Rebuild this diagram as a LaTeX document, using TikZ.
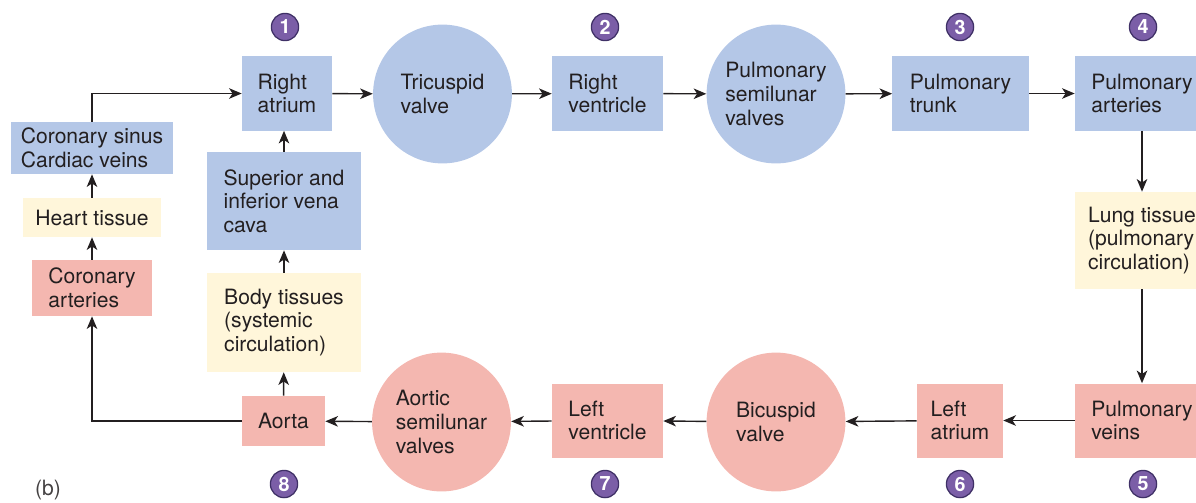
\documentclass[tikz,border=0pt]{standalone}
\usepackage{fontspec}
\setmainfont{TeX Gyre Heros}
\usetikzlibrary{arrows.meta}

\definecolor{venous}{HTML}{B4C7E7}
\definecolor{arterial}{HTML}{F4B7B0}
\definecolor{tissue}{HTML}{FFF6DA}
\definecolor{badgefill}{HTML}{7B5EA7}
\definecolor{badgeline}{HTML}{3F3066}
\definecolor{ink}{HTML}{231F20}

\begin{document}
\begin{tikzpicture}[x=0.025cm, y=-0.025cm,
  every node/.style={font=\fontsize{15}{16.8}\selectfont, text=ink, align=left, inner sep=0pt},
  blk/.style={minimum height=1.85cm},
  vein/.style={fill=venous},
  art/.style={fill=arterial},
  tis/.style={fill=tissue},
  valve/.style={circle, minimum size=3.47cm},
  badge/.style={circle, fill=badgefill, draw=badgeline, line width=0.9pt, minimum size=0.68cm,
                text=white, font=\fontsize{14}{14}\selectfont\bfseries},
  line/.style={-{Stealth[length=9pt, width=7.5pt, inset=2.5pt]}, line width=1pt, draw=ink}]

\useasboundingbox (0,0) rectangle (1196,502);

% pulmonary side, top row
\node (ra)  at (287,93.5)   [vein, blk, minimum width=2.25cm] {Right\\atrium};
\node (tv)  at (442.5,94)   [vein, valve] {Tricuspid\\valve};
\node (rv)  at (607.5,93.5) [vein, blk, minimum width=2.775cm] {Right\\ventricle};
\node (psv) at (776,94)     [vein, valve] {Pulmonary\\semilunar\\valves};
\node (pt)  at (960.5,93.5) [vein, blk, minimum width=3.4cm] {Pulmonary\\trunk};
\node (pa)  at (1142,93.5)  [vein, blk, minimum width=3.35cm] {Pulmonary\\arteries};

% lungs
\node (lung) at (1142,240.5) [tis, minimum width=3.35cm, minimum height=2.425cm]
  {Lung tissue\\(pulmonary\\circulation)};

% systemic side, bottom row
\node (pv)  at (1142,420.5) [art, blk, minimum width=3.35cm] {Pulmonary\\veins};
\node (la)  at (960,420.5)  [art, blk, minimum width=2.15cm] {Left\\atrium};
\node (bv)  at (776,422)    [art, valve] {Bicuspid\\valve};
\node (lv)  at (607.5,420.5) [art, blk, minimum width=2.775cm] {Left\\ventricle};
\node (asv) at (441.5,422)  [art, valve] {Aortic\\semilunar\\valves};
\node (ao)  at (283.5,421)  [art, minimum width=2.075cm, minimum height=1.25cm] {Aorta};

% body and venae cavae
\node (body) at (284,322.5) [tis, minimum width=3.85cm, minimum height=2.475cm]
  {Body tissues\\(systemic\\circulation)};
\node (vc)   at (284,201)   [vein, minimum width=3.85cm, minimum height=2.45cm]
  {Superior and\\inferior vena\\cava};

% coronary loop
\node (ca) at (92,288)   [art, minimum width=3cm, minimum height=1.4cm] {Coronary\\arteries};
\node (ht) at (92,217.5) [tis, minimum width=3.45cm, minimum height=0.975cm] {Heart tissue};
\node (cs) at (92,148)   [vein, minimum width=4.05cm, minimum height=1.3cm] {Coronary sinus\\Cardiac veins};

% step numbers
\node (b1) at (285,27)   [badge] {1};
\node (b2) at (605,27)   [badge] {2};
\node (b3) at (960,27)   [badge] {3};
\node (b4) at (1143,27)  [badge] {4};
\node (b5) at (1143,484) [badge] {5};
\node (b6) at (960,484)  [badge] {6};
\node (b7) at (605,484)  [badge] {7};
\node (b8) at (284,484)  [badge] {8};

\node (tag) at (48,490) [text=ink!85] {(b)};

% flow
\draw[line] (ra) -- (tv);
\draw[line] (tv) -- (rv);
\draw[line] (rv) -- (psv);
\draw[line] (psv) -- (pt);
\draw[line] (pt) -- (pa);
\draw[line] (pa) -- (lung);
\draw[line] (lung) -- (pv);
\draw[line] (pv) -- (la);
\draw[line] (la) -- (bv);
\draw[line] (bv) -- (lv);
\draw[line] (lv) -- (asv);
\draw[line] (asv) -- (ao);
\draw[line] (ao) -- (body);
\draw[line] (body) -- (vc);
\draw[line] (vc.north) -- (vc.north |- ra.south);
\draw[line] (ao.west) -| (ca.south);
\draw[line] (ca) -- (ht);
\draw[line] (ht) -- (cs);
\draw[line] (cs.north) |- (ra.west);

\end{tikzpicture}
\end{document}
